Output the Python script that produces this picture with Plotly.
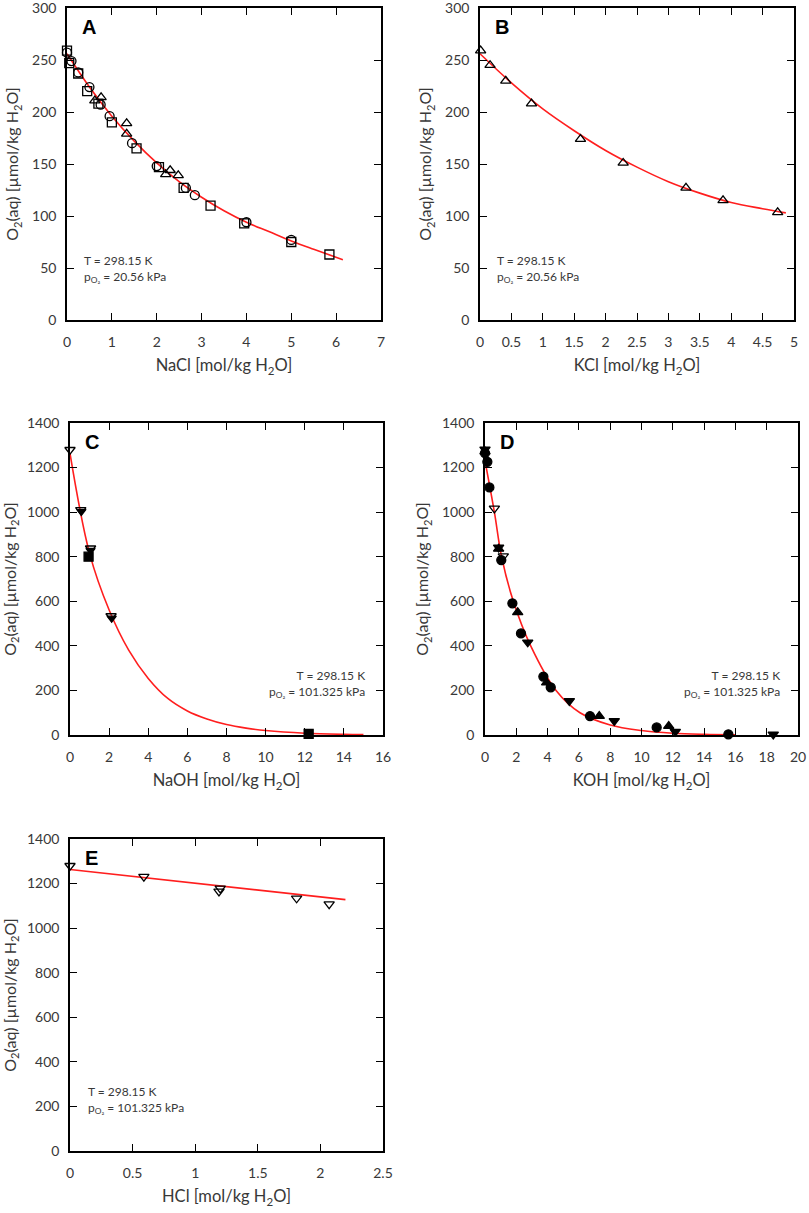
import plotly.graph_objs as go

# --- Panel A: NaCl ---
a_sq_x = [0.0, 0.05, 0.25, 0.45, 0.7, 1.0, 1.55, 2.05, 2.6, 3.2, 3.95, 5.0, 5.85]
a_sq_y = [259, 247, 237, 220, 208, 190, 165, 147, 127, 110, 93, 75, 63]
a_ci_x = [0.0, 0.1, 0.25, 0.5, 0.75, 0.95, 1.45, 2.0, 2.65, 2.85, 4.0, 5.0]
a_ci_y = [257, 249, 238, 224, 207, 196, 170, 148, 127, 120, 94, 77]
a_tr_x = [0.62, 0.76, 1.33, 1.33, 2.2, 2.3, 2.48]
a_tr_y = [211, 214, 189, 179, 140, 144, 139]
a_fit_x = [0, 0.5, 1, 1.5, 2, 2.5, 3, 3.5, 4, 4.5, 5, 5.5, 6.15]
a_fit_y = [256, 224, 196, 172, 151, 133, 118, 105, 94, 85, 76, 68, 58]

# --- Panel B: KCl ---
b_tr_x = [0.01, 0.16, 0.41, 0.82, 1.60, 2.28, 3.28, 3.87, 4.74]
b_tr_y = [259, 245, 230, 208, 174, 151, 127, 115, 103.5]
b_fit_x = [0, 0.5, 1, 1.5, 2, 2.5, 3, 3.5, 4, 4.5, 4.87]
b_fit_y = [256, 228, 203, 182, 163, 147, 133, 122, 113, 107, 103]

# --- Panel C: NaOH ---
c_otd_x = [0.0, 0.55, 1.05, 2.1]
c_otd_y = [1280, 1010, 838, 534]
c_ftd_x = [0.58, 1.05, 2.13]
c_ftd_y = [1003, 828, 524]
c_sq_x = [0.95, 12.2]
c_sq_y = [800, 5]
c_fit_x = [0, 1, 2, 3, 4, 5, 6, 7, 8, 9, 10, 12, 14, 15]
c_fit_y = [1264, 815, 561, 381, 254, 164, 108, 72, 47, 31, 20, 8, 3, 2]

# --- Panel D: KOH ---
d_ftd_x = [0.0, 0.87, 2.73, 5.39, 8.26, 12.16, 18.42]
d_ftd_y = [1282, 842, 416, 153, 63, 15, 3]
d_ftu_x = [0.0, 0.87, 2.09, 3.94, 7.3, 11.74]
d_ftu_y = [1272, 835, 550, 235, 85, 40]
d_ci_x = [0.0, 0.15, 0.28, 1.04, 1.75, 2.3, 3.73, 4.2, 6.71, 10.97, 15.55]
d_ci_y = [1265, 1226, 1111, 785, 591, 456, 262, 214, 85, 34, 3]
d_otd_x = [0.6, 1.17]
d_otd_y = [1017, 803]
d_fit_x = [0, 0.6, 1.06, 1.81, 2.92, 4.54, 6.07, 8, 10, 12, 14, 16]
d_fit_y = [1230, 1000, 800, 600, 400, 200, 100, 45, 20, 8, 3, 1]

# --- Panel E: HCl ---
e_otd_x = [0.0, 0.59, 1.19, 1.2, 1.81, 2.07]
e_otd_y = [1280, 1231, 1165, 1178, 1134, 1108]
e_fit_x = [0, 2.2]
e_fit_y = [1263, 1128]

x_titles = ['NaCl [mol/kg H<sub>2</sub>O]', 'KCl [mol/kg H<sub>2</sub>O]',
            'NaOH [mol/kg H<sub>2</sub>O]', 'KOH [mol/kg H<sub>2</sub>O]',
            'HCl [mol/kg H<sub>2</sub>O]']
y_title = 'O<sub>2</sub>(aq) [µmol/kg H<sub>2</sub>O]'
labels = ['A', 'B', 'C', 'D', 'E']

W, H = 809, 1213
# panel boxes in pixels: left, right, top, bottom
boxes = [(67, 381, 8, 320), (480, 794, 8, 320),
         (70, 383, 423, 735), (485, 798, 423, 735),
         (70, 383, 839, 1151)]
x_ranges = [[0, 7], [0, 5], [0, 16], [0, 20], [0, 2.5]]
x_dticks = [1, 0.5, 2, 2, 0.5]
y_ranges = [[0, 300], [0, 300], [0, 1400], [0, 1400], [0, 1400]]
y_dticks = [50, 50, 200, 200, 200]

RED = 'rgb(255,30,30)'
TXT = '#383838'
FONT = 'Lato'


def pts(x, y, sym, k, size=9):
    return go.Scatter(x=x, y=y, mode='markers', cliponaxis=False, showlegend=False,
                      xaxis='x' + ('' if k == 1 else str(k)),
                      yaxis='y' + ('' if k == 1 else str(k)),
                      marker=dict(symbol=sym, size=size, color='black',
                                  line=dict(color='black', width=1.3)))


def fit(x, y, k, shape='spline'):
    return go.Scatter(x=x, y=y, mode='lines', line=dict(color=RED, width=1.6, shape=shape),
                      showlegend=False, cliponaxis=False,
                      xaxis='x' + ('' if k == 1 else str(k)),
                      yaxis='y' + ('' if k == 1 else str(k)))


fig = go.Figure()
fig.add_trace(fit(a_fit_x, a_fit_y, 1))
fig.add_trace(pts(a_sq_x, a_sq_y, 'square-open', 1))
fig.add_trace(pts(a_ci_x, a_ci_y, 'circle-open', 1))
fig.add_trace(pts(a_tr_x, a_tr_y, 'triangle-up-open', 1))

fig.add_trace(fit(b_fit_x, b_fit_y, 2))
fig.add_trace(pts(b_tr_x, b_tr_y, 'triangle-up-open', 2))

fig.add_trace(fit(c_fit_x, c_fit_y, 3))
fig.add_trace(pts(c_otd_x, c_otd_y, 'triangle-down-open', 3))
fig.add_trace(pts(c_ftd_x, c_ftd_y, 'triangle-down', 3, 8))
fig.add_trace(pts(c_sq_x, c_sq_y, 'square', 3))

fig.add_trace(fit(d_fit_x, d_fit_y, 4))
fig.add_trace(pts(d_ftd_x, d_ftd_y, 'triangle-down', 4))
fig.add_trace(pts(d_ftu_x, d_ftu_y, 'triangle-up', 4))
fig.add_trace(pts(d_ci_x, d_ci_y, 'circle', 4))
fig.add_trace(pts(d_otd_x, d_otd_y, 'triangle-down-open', 4))

fig.add_trace(fit(e_fit_x, e_fit_y, 5, 'linear'))
fig.add_trace(pts(e_otd_x, e_otd_y, 'triangle-down-open', 5))

lay = {}
for i in range(5):
    sfx = '' if i == 0 else str(i + 1)
    l, r, t, b = boxes[i]
    common = dict(showgrid=False, zeroline=False, showline=True, linecolor='black',
                  linewidth=1.5, mirror='ticks', ticks='inside', ticklen=7,
                  tickwidth=1.3, tickcolor='black', automargin=False,
                  ticklabeloverflow='allow',
                  tickfont=dict(family=FONT, size=14, color=TXT))
    lay['xaxis' + sfx] = dict(common, domain=[l / W, r / W], range=x_ranges[i],
                              dtick=x_dticks[i], tick0=0, ticklabelstandoff=8,
                              anchor='y' + sfx,
                              title=dict(text=x_titles[i], standoff=11,
                                         font=dict(family=FONT, size=16.5, color=TXT)))
    lay['yaxis' + sfx] = dict(common, domain=[1 - b / H, 1 - t / H], range=y_ranges[i],
                              dtick=y_dticks[i], tick0=0, ticklabelstandoff=6,
                              anchor='x' + sfx,
                              title=dict(text=y_title, standoff=9,
                                         font=dict(family=FONT, size=16, color=TXT)))

annots = []
for i in range(5):
    sfx = '' if i == 0 else str(i + 1)
    annots.append(dict(text='<b>' + labels[i] + '</b>', xref='x' + sfx + ' domain',
                       yref='y' + sfx + ' domain', x=0.042, y=0.94, xanchor='left',
                       yanchor='middle', showarrow=False,
                       font=dict(family='Liberation Sans', size=20, color='black')))

cond_lo = 'T = 298.15 K<br>p<sub>O₂</sub> = 20.56 kPa'
cond_hi = 'T = 298.15 K<br>p<sub>O₂</sub> = 101.325 kPa'
cond = [(cond_lo, 0.047, 'left'), (cond_lo, 0.047, 'left'),
        (cond_hi, 0.95, 'right'), (cond_hi, 0.95, 'right'),
        (cond_hi, 0.052, 'left')]
for i, (txt, xx, anc) in enumerate(cond):
    sfx = '' if i == 0 else str(i + 1)
    annots.append(dict(text=txt, xref='x' + sfx + ' domain', yref='y' + sfx + ' domain',
                       x=xx, y=0.165, xanchor=anc, yanchor='middle', align=anc,
                       showarrow=False, font=dict(family=FONT, size=12, color=TXT)))

fig.update_layout(**lay)
fig.update_layout(
    width=W, height=H,
    margin=dict(l=0, r=0, t=0, b=0, autoexpand=False),
    plot_bgcolor='white', paper_bgcolor='white',
    annotations=annots,
    showlegend=False,
)

# page has a default 8px body margin; remove it so the figure fills the window
fig.write_html('out.html', config={'displayModeBar': False},
               post_script="document.body.style.margin='0';")
